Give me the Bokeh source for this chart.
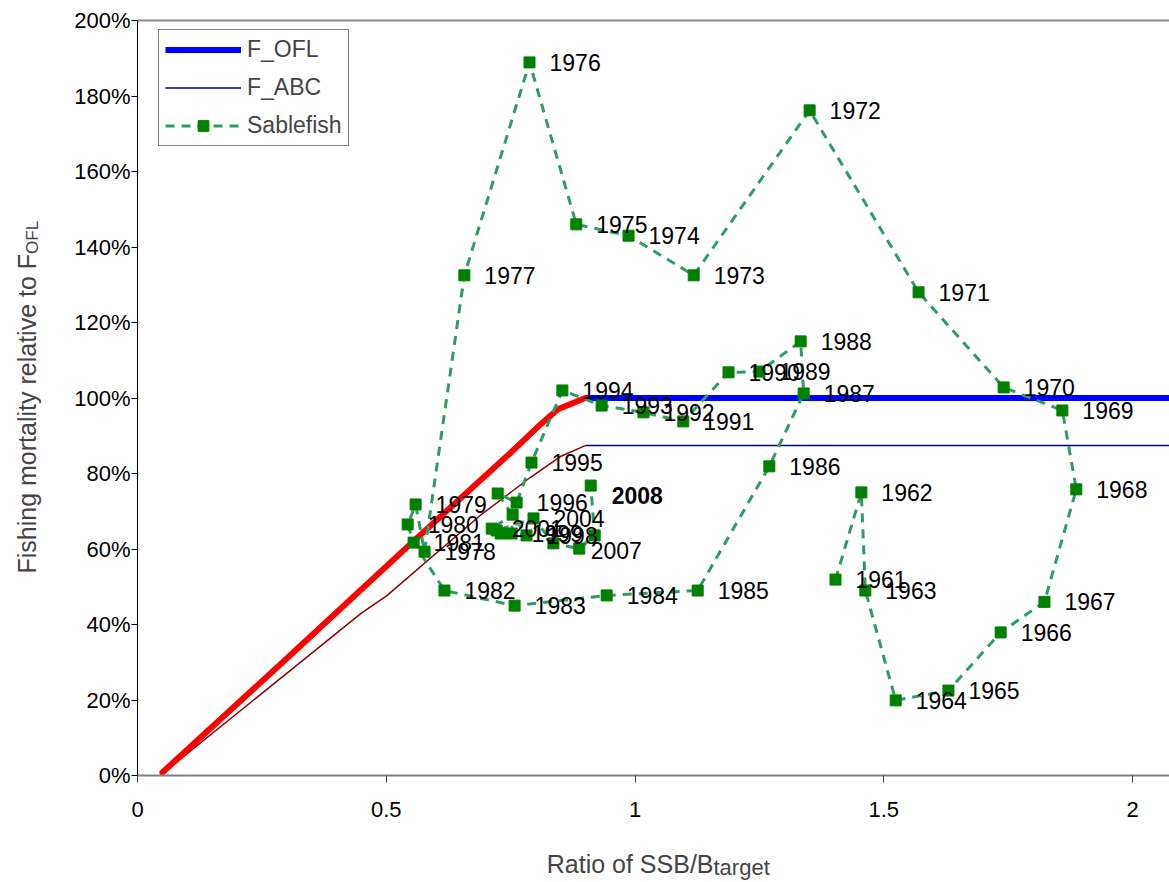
import math
from bokeh.plotting import figure
from bokeh.models import (ColumnDataSource, LabelSet, Label, Legend, LegendItem,
                          FixedTicker, Range1d)
from bokeh.embed import file_html
from bokeh.resources import INLINE
from bokeh.core.properties import value

# ---------------- data ----------------
years = list(range(1961, 2009))
ssb_ratio = [1.403, 1.455, 1.463, 1.524, 1.630, 1.735, 1.823, 1.887, 1.859, 1.741,
             1.570, 1.351, 1.118, 0.987, 0.882, 0.788, 0.657, 0.577, 0.559, 0.543,
             0.555, 0.617, 0.758, 0.943, 1.126, 1.270, 1.339, 1.333, 1.250, 1.188,
             1.097, 1.017, 0.933, 0.854, 0.792, 0.762, 0.724, 0.782, 0.752, 0.754,
             0.712, 0.730, 0.722, 0.796, 0.836, 0.888, 0.919, 0.911]
f_rel = [0.519, 0.750, 0.490, 0.199, 0.225, 0.379, 0.460, 0.758, 0.967, 1.028,
         1.280, 1.762, 1.325, 1.430, 1.460, 1.889, 1.325, 0.593, 0.718, 0.665,
         0.617, 0.490, 0.450, 0.477, 0.490, 0.819, 1.012, 1.150, 1.070, 1.068,
         0.938, 0.962, 0.980, 1.020, 0.829, 0.723, 0.747, 0.636, 0.641, 0.691,
         0.654, 0.641, 0.649, 0.681, 0.615, 0.601, 0.636, 0.768]
unlabeled_years = [1997, 2000, 2002, 2003, 2005, 2006]
bold_years = [2008]

# harvest control rule: F_OFL (below target shown in red) and F_ABC (below target dark red)
ofl_low_x = [0.05, 0.30, 0.55, 0.75, 0.81, 0.845, 0.90]
ofl_low_y = [0.008, 0.31, 0.615, 0.855, 0.93, 0.97, 1.00]
ofl_x = [0.90, 2.30]
ofl_y = [1.00, 1.00]
abc_low_x = [0.05, 0.45, 0.50, 0.69, 0.79, 0.85, 0.90]
abc_low_y = [0.005, 0.43, 0.475, 0.69, 0.79, 0.845, 0.874]
abc_x = [0.90, 2.30]
abc_y = [0.874, 0.874]

x_ticks = [0, 0.5, 1, 1.5, 2]
x_tick_labels = ["0", "0.5", "1", "1.5", "2"]
y_ticks = [0, 0.2, 0.4, 0.6, 0.8, 1.0, 1.2, 1.4, 1.6, 1.8, 2.0]
y_tick_labels = ["0%", "20%", "40%", "60%", "80%", "100%", "120%", "140%", "160%", "180%", "200%"]
y_max = 2.0

# ---------------- layout / styling ----------------
W, H = 1169, 882
AX_LEFT_PX, AX_BOTTOM_PX = 137, 775        # where x=0 / y=0 sit on the canvas
PX_PER_X, PX_PER_Y = 497.5, 377.5
x0 = -AX_LEFT_PX / PX_PER_X
x1 = (W - AX_LEFT_PX) / PX_PER_X
y0 = -(H - AX_BOTTOM_PX) / PX_PER_Y
y1 = AX_BOTTOM_PX / PX_PER_Y

def dx(px):
    return (px - AX_LEFT_PX) / PX_PER_X

def dy(py):
    return (AX_BOTTOM_PX - py) / PX_PER_Y

FONT = "Liberation Sans"
label_offsets = {2007: (-4, -15), 2008: (21, -10)}
default_offset = (20, 0)

p = figure(width=W, height=H, x_range=Range1d(x0, x1), y_range=Range1d(y0, y1),
           output_backend="svg", toolbar_location=None,
           min_border=0, min_border_left=0, min_border_right=0,
           min_border_top=0, min_border_bottom=0)
p.outline_line_color = None
p.xgrid.visible = False
p.ygrid.visible = False
p.background_fill_color = "white"
p.border_fill_color = "white"

p.xaxis.ticker = FixedTicker(ticks=x_ticks)
p.xaxis.major_label_overrides = {t: l for t, l in zip(x_ticks, x_tick_labels)}
p.yaxis.ticker = FixedTicker(ticks=y_ticks)
p.yaxis.major_label_overrides = {t: l for t, l in zip(y_ticks, y_tick_labels)}
for ax in (p.xaxis, p.yaxis):
    ax.fixed_location = 0
    ax.minor_tick_line_color = None
    ax.major_tick_in = 0
    ax.major_label_text_font = FONT
    ax.major_label_text_font_size = "22px"
    ax.major_label_text_color = "black"
p.xaxis.bounds = (0, x1)
p.yaxis.bounds = (0, y_max)
p.xaxis.axis_line_color = "#808080"
p.xaxis.axis_line_width = 2
p.xaxis.major_tick_line_color = "#404040"
p.xaxis.major_tick_out = 7
p.xaxis.major_label_standoff = 19
p.yaxis.axis_line_color = "black"
p.yaxis.major_tick_line_color = "black"
p.yaxis.major_tick_out = 6
p.yaxis.major_label_standoff = 1

# top border of the plot area
p.line([0, x1], [y_max, y_max], line_color="#8c8c8c", line_width=2)

# control rule lines
r_ofl = p.line(ofl_x, ofl_y, line_color="#0000ff", line_width=6)
r_abc = p.line(abc_x, abc_y, line_color="#000080", line_width=1.5)
p.line(abc_low_x, abc_low_y, line_color="#8b0000", line_width=1.5)
p.line(ofl_low_x, ofl_low_y, line_color="#ff0000", line_width=6, line_cap="round", line_join="round")

# sablefish trajectory
src = ColumnDataSource(dict(
    x=ssb_ratio, y=f_rel,
    text=["" if yr in unlabeled_years else str(yr) for yr in years],
    xo=[label_offsets.get(yr, default_offset)[0] for yr in years],
    yo=[label_offsets.get(yr, default_offset)[1] for yr in years],
    fs=["bold" if yr in bold_years else "normal" for yr in years],
))
r_sl = p.line("x", "y", source=src, line_color="#339966", line_width=3, line_dash="9 7")
r_sm = p.scatter("x", "y", source=src, marker="square", size=11, fill_color="#008000",
                 line_color="#008000")

labels = LabelSet(x="x", y="y", text="text", x_offset="xo", y_offset="yo", source=src,
                  text_font=value(FONT), text_font_size="23px", text_font_style="fs",
                  text_align="left", text_baseline="middle", text_color="black")
p.add_layout(labels)

legend = Legend(items=[
    LegendItem(label="F_OFL", renderers=[r_ofl]),
    LegendItem(label="F_ABC", renderers=[r_abc]),
    LegendItem(label="Sablefish", renderers=[r_sl, r_sm]),
], location=(158, H - 146))
legend.label_text_font = FONT
legend.label_text_font_size = "23px"
legend.glyph_width = 76
legend.glyph_height = 27
legend.label_height = 27
legend.label_standoff = 6
legend.spacing = 11
legend.padding = 6
legend.margin = 0
legend.border_line_color = "black"
legend.border_line_width = 1
legend.background_fill_alpha = 1.0
p.add_layout(legend)

# axis titles (with subscripts)
TITLE_PX = 25
SUB_PX = 22
YSUB_PX = 17
x_title_end = 713
p.add_layout(Label(x=dx(x_title_end), y=dy(863), text="Ratio of SSB/B", text_align="right",
                   text_baseline="middle", text_font=FONT, text_font_size=f"{TITLE_PX}px"))
p.add_layout(Label(x=dx(x_title_end), y=dy(867), text="target", text_align="left",
                   text_baseline="middle", text_font=FONT, text_font_size=f"{SUB_PX}px"))
y_title_start = 573
y_title_len = 12.781 * TITLE_PX       # advance width of the main part (Arial metrics)
p.add_layout(Label(x=dx(26), y=dy(y_title_start), text="Fishing mortality relative to F",
                   text_align="left", text_baseline="middle", angle=math.pi / 2,
                   text_font=FONT, text_font_size=f"{TITLE_PX}px"))
p.add_layout(Label(x=dx(32), y=dy(y_title_start - y_title_len), text="OFL", text_align="left",
                   text_baseline="middle", angle=math.pi / 2,
                   text_font=FONT, text_font_size=f"{YSUB_PX}px"))

open("out.html", "w").write(file_html(p, INLINE))
